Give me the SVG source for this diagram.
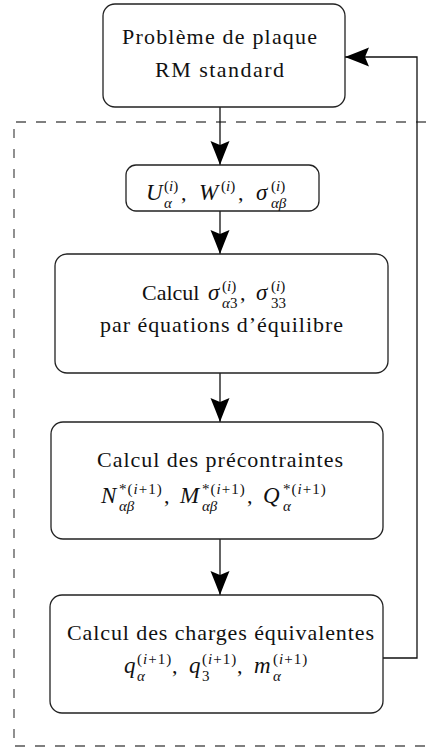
<svg xmlns="http://www.w3.org/2000/svg" width="434" height="749" viewBox="0 0 434 749">
<style>
.box{fill:#fff;stroke:#222;stroke-width:1.3}
.t{font-family:"Liberation Serif","Times New Roman",serif;font-size:22px;fill:#111}
.mm{font-size:23px;font-style:italic}
.m{font-style:italic}
.s{font-size:15px}
.p{letter-spacing:1px}
.c{text-anchor:middle}
.ln{stroke:#111;stroke-width:1.3;fill:none}
.dash{stroke:#555;stroke-width:1.3;fill:none;stroke-dasharray:10 10}
</style>
<defs>
<marker id="ah" markerUnits="userSpaceOnUse" markerWidth="26" markerHeight="20" viewBox="0 0 26 20" refX="24" refY="10" orient="auto">
<path d="M24,10 Q11,5 0,0.5 L4,10 L0,19.5 Q11,15 24,10 Z" fill="#000"/>
</marker>
</defs>

<g id="frame">
<line class="dash" x1="16" y1="122" x2="434" y2="122"/>
<line class="dash" x1="14" y1="129" x2="14" y2="746" style="stroke-dasharray:9 11"/>
<line class="dash" x1="15" y1="746" x2="434" y2="746"/>
</g>

<g id="connectors">
<line class="ln" x1="220" y1="107" x2="220" y2="165" marker-end="url(#ah)"/>
<line class="ln" x1="220" y1="211" x2="220" y2="254" marker-end="url(#ah)"/>
<line class="ln" x1="220" y1="373" x2="220" y2="422" marker-end="url(#ah)"/>
<line class="ln" x1="220" y1="539" x2="220" y2="595" marker-end="url(#ah)"/>
<path class="ln" d="M383,658 H417 V57 H345" marker-end="url(#ah)"/>
</g>

<g id="n1">
<rect class="box" x="103" y="4" width="242" height="103" rx="12"/>
<text class="t c" x="219.5" y="44" textLength="195" lengthAdjust="spacing">Problème de plaque</text>
<text class="t c" x="219.5" y="77" textLength="129" lengthAdjust="spacing">RM standard</text>
</g>

<g id="n2">
<rect class="box" x="126" y="165" width="193" height="46" rx="10"/>
<text class="t"><tspan class="mm" x="146" y="200">U</tspan><tspan class="s" x="164" y="191">(<tspan class="m">i</tspan>)</tspan><tspan class="s m" x="164" y="208">α</tspan><tspan x="181" y="200">,</tspan><tspan class="mm" x="199" y="200">W</tspan><tspan class="s" x="221" y="191">(<tspan class="m">i</tspan>)</tspan><tspan x="238" y="200">,</tspan><tspan class="mm" x="256" y="200">σ</tspan><tspan class="s" x="271" y="191">(<tspan class="m">i</tspan>)</tspan><tspan class="s m" x="271" y="208">αβ</tspan></text>
</g>

<g id="n3">
<rect class="box" x="55" y="254" width="333" height="119" rx="12"/>
<text class="t"><tspan x="142" y="300">Calcul</tspan><tspan class="mm" x="208" y="300">σ</tspan><tspan class="s" x="222" y="291">(<tspan class="m">i</tspan>)</tspan><tspan class="s" x="222" y="308"><tspan class="m">α</tspan>3</tspan><tspan x="240" y="300">,</tspan><tspan class="mm" x="256" y="300">σ</tspan><tspan class="s" x="271" y="291">(<tspan class="m">i</tspan>)</tspan><tspan class="s" x="271" y="308">33</tspan></text>
<text class="t c" x="221.5" y="332" textLength="243" lengthAdjust="spacing">par équations d’équilibre</text>
</g>

<g id="n4">
<rect class="box" x="51" y="422" width="332" height="117" rx="12"/>
<text class="t c" x="220" y="467" textLength="246" lengthAdjust="spacing">Calcul des précontraintes</text>
<text class="t"><tspan class="mm" x="101" y="503">N</tspan><tspan class="s p" x="119" y="494">*(<tspan class="m">i</tspan>+1)</tspan><tspan class="s m" x="119" y="511">αβ</tspan><tspan x="164" y="503">,</tspan><tspan class="mm" x="180" y="503">M</tspan><tspan class="s p" x="202" y="494">*(<tspan class="m">i</tspan>+1)</tspan><tspan class="s m" x="202" y="511">αβ</tspan><tspan x="247" y="503">,</tspan><tspan class="mm" x="263" y="503">Q</tspan><tspan class="s p" x="283" y="494">*(<tspan class="m">i</tspan>+1)</tspan><tspan class="s m" x="283" y="511">α</tspan></text>
</g>

<g id="n5">
<rect class="box" x="50" y="595" width="333" height="118" rx="12"/>
<text class="t c" x="220.5" y="640" textLength="307" lengthAdjust="spacing">Calcul des charges équivalentes</text>
<text class="t"><tspan class="mm" x="124" y="673">q</tspan><tspan class="s p" x="137" y="664">(<tspan class="m">i</tspan>+1)</tspan><tspan class="s m" x="137" y="681">α</tspan><tspan x="172" y="673">,</tspan><tspan class="mm" x="189" y="673">q</tspan><tspan class="s p" x="202" y="664">(<tspan class="m">i</tspan>+1)</tspan><tspan class="s" x="202" y="681">3</tspan><tspan x="237" y="673">,</tspan><tspan class="mm" x="254" y="673">m</tspan><tspan class="s p" x="273" y="664">(<tspan class="m">i</tspan>+1)</tspan><tspan class="s m" x="273" y="681">α</tspan></text>
</g>
</svg>
